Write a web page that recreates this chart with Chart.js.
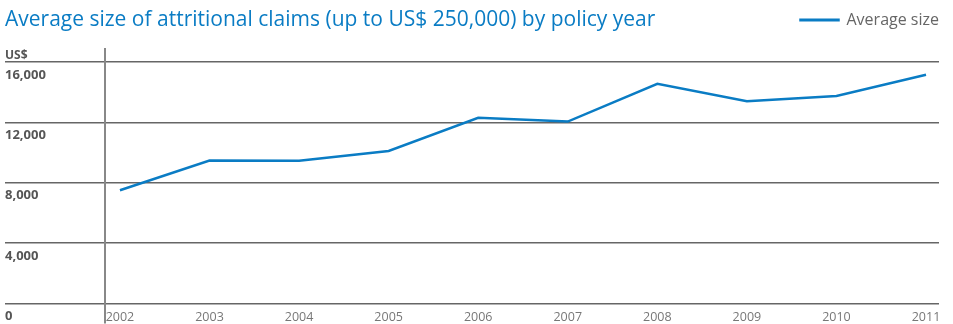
<!DOCTYPE html>
<html>
<head>
<meta charset="utf-8">
<script src="https://cdn.jsdelivr.net/npm/chart.js@4/dist/chart.umd.min.js"></script>
<style>
  body { margin: 0; background: #fff; }
  #wrap { position: relative; width: 953px; height: 324px; }
  #title { position: absolute; left: 5px; top: 4px; margin: 0; font: 21px "Open Sans", sans-serif; color: #0a7cc4; white-space: nowrap; }
  #unit { position: absolute; left: 5px; top: 46px; font: bold 12px "Open Sans", sans-serif; color: #555; }
</style>
</head>
<body>
<div id="wrap">
  <canvas id="myChart" width="953" height="324"></canvas>
  <h1 id="title">Average size of attritional claims (up to US$ 250,000) by policy year</h1>
  <div id="unit">US$</div>
</div>
<script>
// policy years and average claim size (US$)
let years = [2002, 2003, 2004, 2005, 2006, 2007, 2008, 2009, 2010, 2011];
let averageSize = [7500, 9470, 9450, 10100, 12300, 12050, 14550, 13400, 13750, 15150];
let yTicks = [0, 4000, 8000, 12000, 16000];

let blue = "#0a7cc4";
let xMin = 2001.833, xMax = 2011.145;

let points = [];
for (let i = 0; i < years.length; i++) {
    points.push({ x: years[i], y: averageSize[i] });
}

// push the plot down below the legend row
let legendGap = {
    id: "legendGap",
    beforeInit(chart) {
        let fit = chart.legend.fit;
        chart.legend.fit = function () {
            fit.bind(chart.legend)();
            this.height += 11;
        };
    }
};

new Chart("myChart", {
    type: "line",
    data: {
        datasets: [{
            label: "Average size",
            data: points,
            borderColor: blue,
            backgroundColor: blue,
            borderWidth: 2.5,
            pointRadius: 0,
            tension: 0
        }]
    },
    options: {
        responsive: false,
        animation: false,
        layout: { padding: { left: 5, right: 14, top: 12, bottom: 0 } },
        plugins: {
            tooltip: { enabled: false },
            legend: {
                position: "top",
                align: "end",
                labels: {
                    boxWidth: 38,
                    boxHeight: 0.5,
                    color: "#666",
                    font: { family: "Open Sans", size: 16 },
                    padding: 0
                }
            }
        },
        scales: {
            x: {
                type: "linear",
                min: xMin,
                max: xMax,
                afterBuildTicks: s => { s.ticks = [{ value: xMin }].concat(years.map(v => ({ value: v }))); },
                afterFit: s => { s.height = 20.5; },
                grid: {
                    drawOnChartArea: false,
                    drawTicks: true,
                    tickLength: 20,
                    color: c => c.index === 0 ? "#888" : "rgba(0,0,0,0)",
                    lineWidth: 2
                },
                border: { display: false },
                ticks: {
                    autoSkip: false,
                    maxRotation: 0,
                    padding: -14,
                    color: "#777",
                    font: { family: "Open Sans", size: 12.5 },
                    callback: (v) => years.includes(v) ? String(v) : ""
                }
            },
            y: {
                min: 0,
                max: 16860,
                afterBuildTicks: s => { s.ticks = yTicks.map(v => ({ value: v })); },
                afterFit: s => { s.width = 100; },
                grid: {
                    color: "#666",
                    lineWidth: 1.5,
                    drawTicks: true,
                    tickLength: 100
                },
                border: { display: true, color: "#888", width: 2 },
                ticks: {
                    crossAlign: "far",
                    labelOffset: 13,
                    padding: 0,
                    color: "#555",
                    font: { family: "Open Sans", size: 13, weight: "bold" },
                    callback: (v) => v.toLocaleString("en-US")
                }
            }
        }
    },
    plugins: [legendGap]
});
</script>
</body>
</html>
